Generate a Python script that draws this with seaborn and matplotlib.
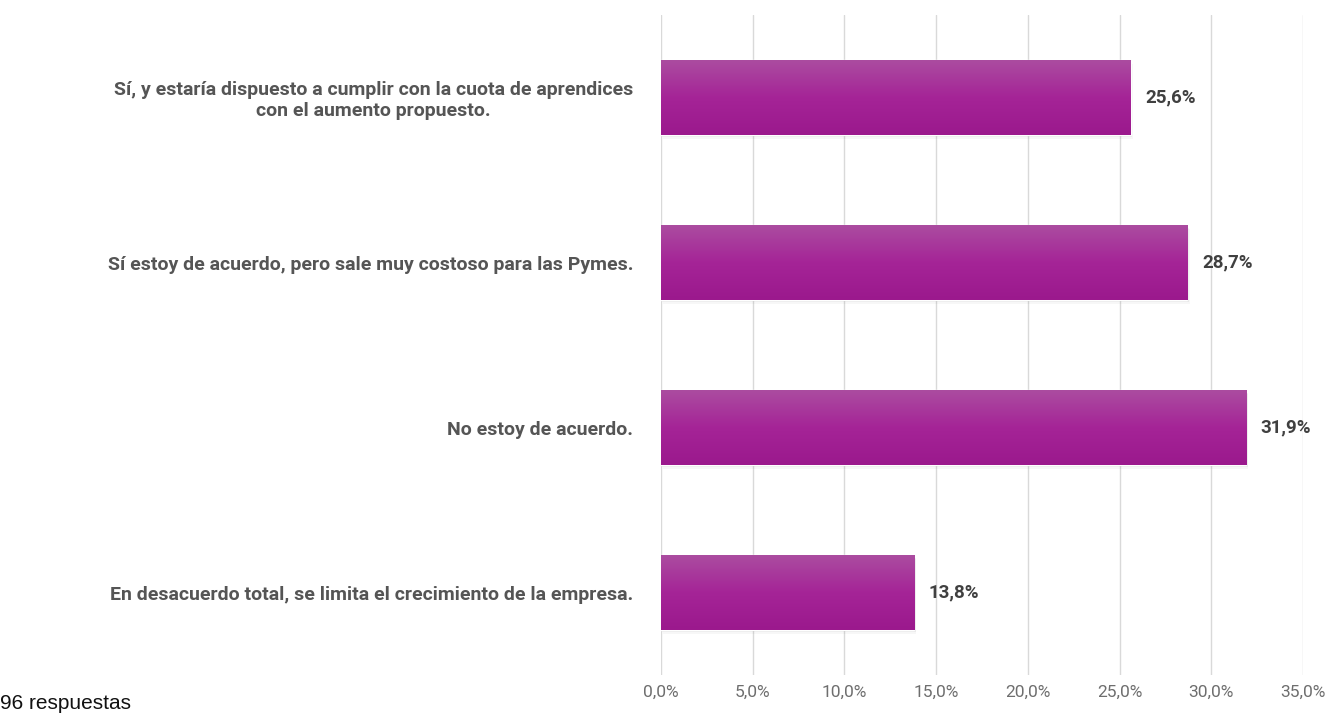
import numpy as np
import pandas as pd
import matplotlib
matplotlib.use("Agg")
import matplotlib.pyplot as plt
from matplotlib.colors import LinearSegmentedColormap
import seaborn as sns

categorias = [
    "Sí, y estaría dispuesto a cumplir con la cuota de aprendices\ncon el aumento propuesto.",
    "Sí estoy de acuerdo, pero sale muy costoso para las Pymes.",
    "No estoy de acuerdo.",
    "En desacuerdo total, se limita el crecimiento de la empresa.",
]
valores = [25.6, 28.7, 31.9, 13.8]
ticks = [0, 5, 10, 15, 20, 25, 30, 35]
nota = "96 respuestas"

df = pd.DataFrame({"cat": categorias, "val": valores})

sns.set_theme(style="white")
plt.rcParams["font.family"] = ["Roboto", "DejaVu Sans"]

fig = plt.figure(figsize=(13.28, 7.14), dpi=100)
ax = fig.add_axes([0.4977, 0.0546, 0.4835, 0.9244])

sns.barplot(data=df, x="val", y="cat", color="#a01f90", saturation=1,
            width=0.45, ax=ax, zorder=3)

# degradado vertical en cada barra + sombra suave
grad = LinearSegmentedColormap.from_list("g", ["#ab4ca0", "#a52497", "#9b198d"])
for p in ax.patches:
    x0, y0 = p.get_x(), p.get_y()
    w, h = p.get_width(), p.get_height()
    for k, a in enumerate([0.08, 0.05, 0.03]):
        d = 0.008 * (k + 1)
        sh = plt.Rectangle((x0 + 0.04 * (k + 1), y0 + d), w, h, color="#000000",
                           alpha=a, zorder=2, linewidth=0)
        ax.add_patch(sh)
    im = ax.imshow(np.linspace(0, 1, 100).reshape(-1, 1), cmap=grad,
                   extent=(x0, x0 + w, y0 + h, y0), aspect="auto", zorder=4)
    im.set_clip_path(p)

ax.set_xlim(0, 35)
ax.set_ylim(3.5, -0.5)
ax.set_xticks(ticks)
ax.set_xticklabels([f"{t:.1f}%".replace(".", ",") for t in ticks],
                   color="#6e6e6e", fontsize=12.5)
ax.grid(axis="x", color="#d9d9d9", linewidth=1, zorder=0)
ax.set_xlabel("")
ax.set_ylabel("")
for s in ax.spines.values():
    s.set_visible(False)
ax.tick_params(axis="x", length=0, pad=7)
ax.tick_params(axis="y", length=0, pad=20)
for lab in ax.get_yticklabels():
    lab.set_fontweight("bold")
    lab.set_color("#555555")
    lab.set_fontsize(14)
    lab.set_multialignment("center")

for i, v in enumerate(valores):
    ax.text(v + 0.8, i, f"{v:.1f}%".replace(".", ","), va="center", ha="left",
            fontsize=13.5, fontweight="bold", color="#404040")

fig.text(0.0, 0.002, nota, fontsize=15, family="Liberation Sans",
         ha="left", va="bottom", color="#111111")

fig.savefig("out.png", dpi=100)
